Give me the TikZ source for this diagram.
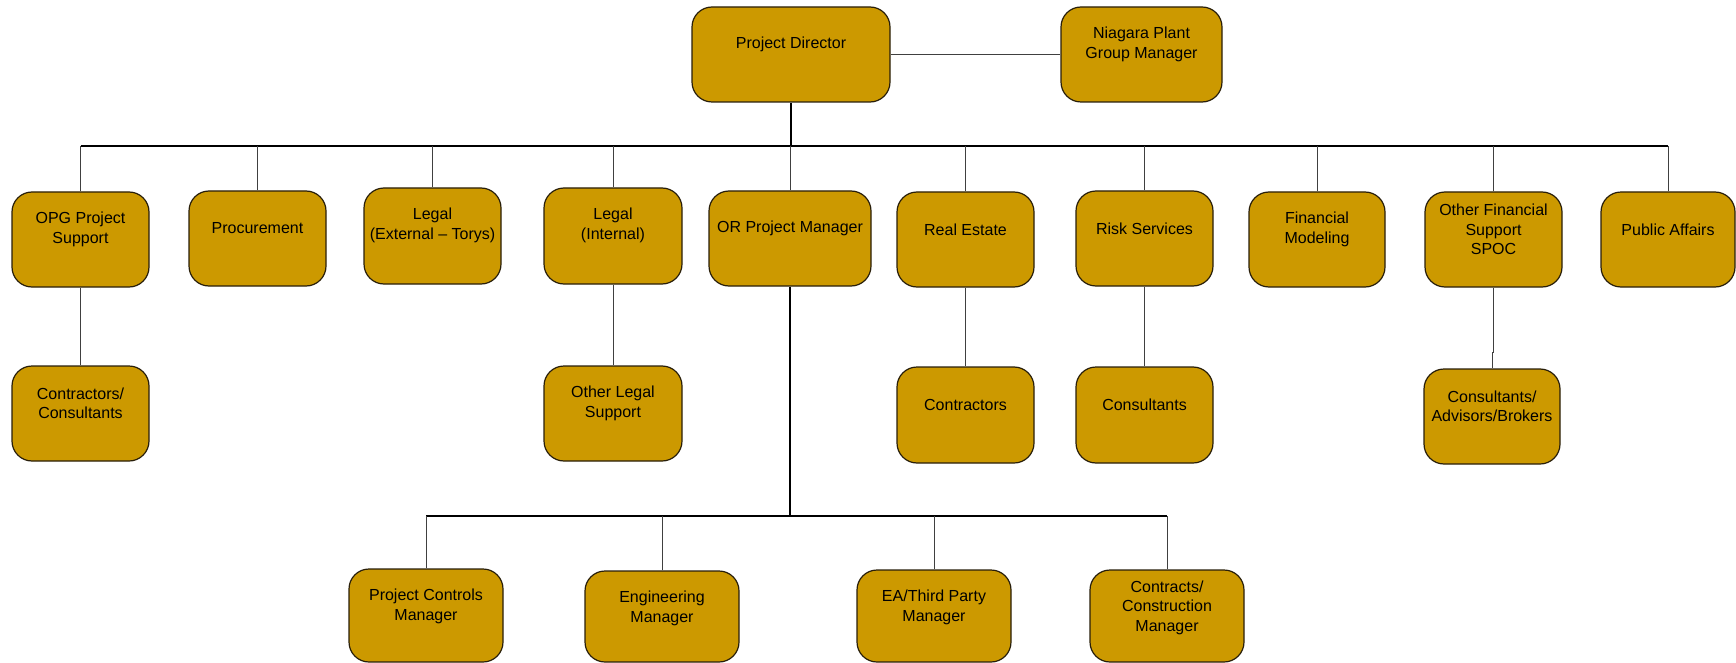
\documentclass[tikz,border=0pt]{standalone}
\usepackage{fontspec}
\setmainfont{Liberation Sans}
\definecolor{gold}{RGB}{204,153,0}
\definecolor{edge}{RGB}{40,30,10}
\tikzset{
  orgbox/.style={draw=edge, line width=1.2pt, fill=gold, rounded corners=20pt, inner sep=0pt},
  orgtxt/.style={inner sep=0pt, align=center, text=black, font=\fontsize{16pt}{19.5pt}\selectfont},
  conn/.style={draw=black!75, line width=1pt},
  trunk/.style={draw=black, line width=1.7pt}
}
\newcommand\obox[6]{%
  \node[orgbox, minimum width=#4pt, minimum height=#5pt] (#1) at (#2, #3+#5/2) {};
  \node[orgtxt] (#1t) at (#2, #3+37.5) {#6};}
\begin{document}
\begin{tikzpicture}[x=1pt,y=-1pt]
\useasboundingbox (0,0) rectangle (1736,663);
% top
\obox{pd}{791}{7}{198}{95}{Project Director}
\obox{ngm}{1141.5}{7}{161}{95}{Niagara Plant\\Group Manager}
% row 1
\obox{opg}{80.5}{192}{137}{95}{OPG Project\\Support}
\obox{proc}{257.5}{191}{137}{95}{Procurement}
\obox{legext}{432.5}{188}{137}{96}{Legal\\(External -- Torys)}
\obox{legint}{613}{188}{138}{96}{Legal\\(Internal)}
\obox{orpm}{790}{191}{162}{95}{OR Project Manager}
\obox{re}{965.5}{192}{137}{95}{Real Estate}
\obox{risk}{1144.5}{191}{137}{95}{Risk Services}
\obox{fin}{1317}{192}{136}{95}{Financial\\Modeling}
\obox{ofs}{1493.5}{192}{137}{95}{Other Financial\\Support\\SPOC}
\obox{pa}{1668}{192}{134}{95}{Public Affairs}
% row 2
\obox{cc}{80.5}{366}{137}{95}{Contractors/\\Consultants}
\obox{ols}{613}{366}{138}{95}{Other Legal\\Support}
\obox{con}{965.5}{367}{137}{96}{Contractors}
\obox{cons}{1144.5}{367}{137}{96}{Consultants}
\obox{cab}{1492}{369}{136}{95}{Consultants/\\Advisors/Brokers}
% row 3
\obox{pcm}{426}{569}{154}{93}{Project Controls\\Manager}
\obox{em}{662}{571}{154}{91}{Engineering\\Manager}
\obox{ea}{934}{570}{154}{92}{EA/Third Party\\Manager}
\obox{ccm}{1167}{570}{154}{92}{Contracts/\\Construction\\Manager}
% connectors
\draw[conn] (pd.east) -- (ngm.west);
\coordinate (busL) at (80.5,146);
\coordinate (busR) at (1668,146);
\draw[trunk] (busL) -- (busR);
\draw[trunk] (pd.south) -- (pd.south |- busL);
\foreach \n in {opg,proc,legext,legint,orpm,re,risk,fin,ofs,pa}
  \draw[conn] (\n.north) -- (\n.north |- busL);
\draw[conn] (opg.south) -- (cc.north);
\draw[conn] (legint.south) -- (ols.north);
\draw[conn] (re.south) -- (con.north);
\draw[conn] (risk.south) -- (cons.north);
\coordinate (jog) at (1492,352);
\draw[conn] (ofs.south) |- (jog) -- (cab.north);
\coordinate (bus2L) at (426,516);
\coordinate (bus2R) at (1167,516);
\draw[trunk] (orpm.south) -- (orpm.south |- bus2L);
\draw[trunk] (bus2L) -- (bus2R);
\foreach \n in {pcm,em,ea,ccm}
  \draw[conn] (\n.north) -- (\n.north |- bus2L);
\end{tikzpicture}
\end{document}
